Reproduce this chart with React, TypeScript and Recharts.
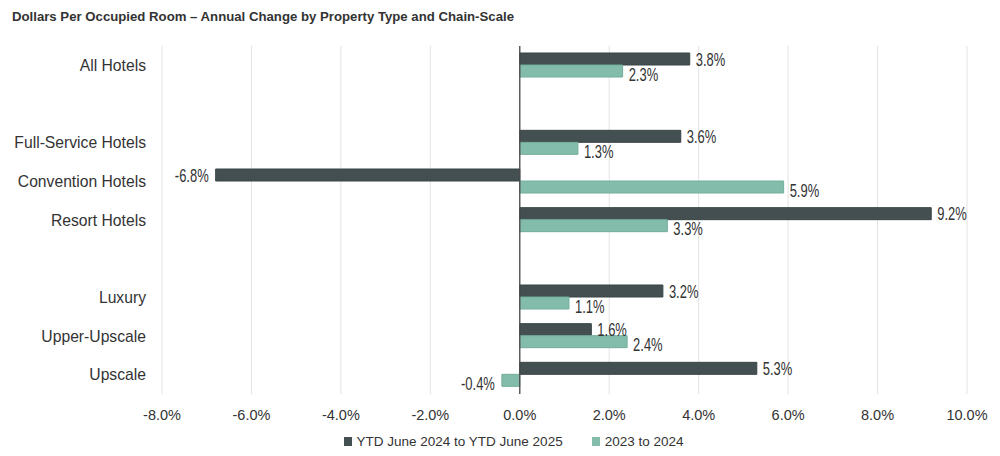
import React from "react";
import { BarChart, Bar, XAxis, YAxis, CartesianGrid, ReferenceLine, LabelList, Legend } from "recharts";

const categories = ["All Hotels", " ", "Full-Service Hotels", "Convention Hotels", "Resort Hotels", "  ", "Luxury", "Upper-Upscale", "Upscale"];
const ytdChange = [3.8, null, 3.6, -6.8, 9.2, null, 3.2, 1.6, 5.3];
const priorChange = [2.3, null, 1.3, 5.9, 3.3, null, 1.1, 2.4, -0.4];
const xTicks = [-8, -6, -4, -2, 0, 2, 4, 6, 8, 10];

const seriesNames = ["YTD June 2024 to YTD June 2025", "2023 to 2024"];
const seriesColors = ["#434f50", "#84bcab"];

const data = categories.map((name, i) => ({ name, ytd: ytdChange[i], prior: priorChange[i] }));

const sans = "'Liberation Sans', Arial, sans-serif";

// the source uses a condensed face for the bar values; squeeze Liberation Sans instead
function makeLabel(dy: number) {
  return (props: any) => {
    const { x, y, width, height, value } = props;
    if (value === null || value === undefined) return null;
    const left = Math.min(x, x + width);
    const right = Math.max(x, x + width);
    const neg = value < 0;
    const tx = neg ? left - 7 : right + 6;
    const ty = y + height / 2 + dy;
    return (
      <text
        transform={`translate(${tx},${ty}) scale(0.72,1)`}
        x={0}
        y={0}
        textAnchor={neg ? "end" : "start"}
        dominantBaseline="central"
        fill="#333"
        fontSize={18}
        fontFamily={sans}
      >
        {value.toFixed(1)}%
      </text>
    );
  };
}

function LegendContent() {
  return (
    <div style={{ display: "flex", justifyContent: "center", paddingLeft: 27, height: 20, alignItems: "center" }}>
      {seriesNames.map((name, i) => (
        <div key={name} style={{ display: "flex", alignItems: "center", marginLeft: i ? 29 : 0 }}>
          <span style={{ width: 8, height: 9, background: seriesColors[i], display: "inline-block", marginRight: 5 }} />
          <span style={{ fontSize: 13.5, color: "#333", fontFamily: sans }}>{name}</span>
        </div>
      ))}
    </div>
  );
}

export default function App() {
  return (
    <div style={{ position: "absolute", left: 0, top: 0, width: 1000, height: 456, background: "#fff", fontFamily: sans }}>
      <div style={{ position: "absolute", left: 12, top: 8, fontSize: 13.2, lineHeight: "18px", fontWeight: 700, color: "#333" }}>
        Dollars Per Occupied Room – Annual Change by Property Type and Chain-Scale
      </div>
      <BarChart
        width={1000}
        height={456}
        data={data}
        layout="vertical"
        margin={{ top: 46, right: 33, left: 0, bottom: 12 }}
        barGap={0}
        barSize={12}
      >
        <CartesianGrid horizontal={false} stroke="#e3e3e3" />
        <XAxis
          type="number"
          domain={[-8, 10]}
          ticks={xTicks}
          tickFormatter={(v: number) => `${v.toFixed(1)}%`}
          axisLine={false}
          tickLine={false}
          tickSize={0}
          tickMargin={16}
          height={30}
          tick={{ fill: "#333", fontSize: 14.5, fontFamily: sans }}
          interval={0}
        />
        <YAxis
          type="category"
          dataKey="name"
          width={162}
          axisLine={false}
          tickLine={false}
          tickSize={0}
          tickMargin={16}
          interval={0}
          tick={{ fill: "#333", fontSize: 15.7, fontFamily: sans }}
        />
        <Bar dataKey="ytd" name={seriesNames[0]} fill={seriesColors[0]} stroke="#3a4546" strokeWidth={1} isAnimationActive={false}>
          <LabelList dataKey="ytd" content={makeLabel(0.5)} />
        </Bar>
        <Bar dataKey="prior" name={seriesNames[1]} fill={seriesColors[1]} stroke="#72ae9c" strokeWidth={1} isAnimationActive={false}>
          <LabelList dataKey="prior" content={makeLabel(3.5)} />
        </Bar>
        <ReferenceLine x={0} stroke="#4a4a4a" strokeWidth={1.3} />
        <Legend verticalAlign="bottom" content={<LegendContent />} wrapperStyle={{ left: 0, width: 1000, bottom: 5 }} />
      </BarChart>
    </div>
  );
}
